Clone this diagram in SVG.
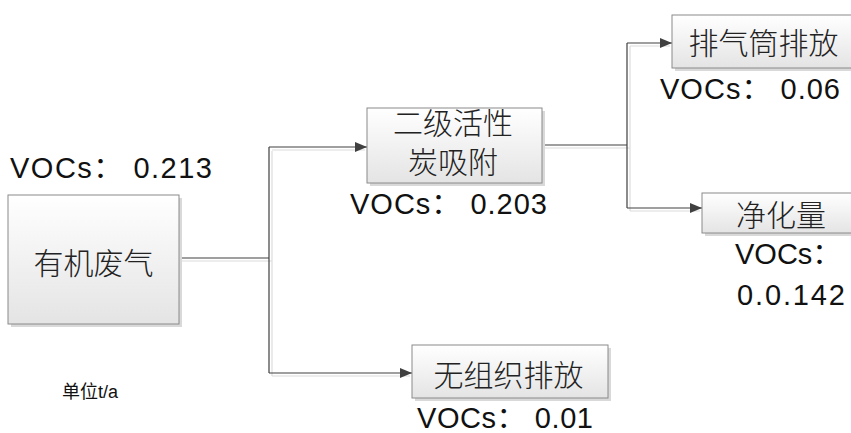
<svg xmlns="http://www.w3.org/2000/svg" width="851" height="433" viewBox="0 0 851 433">
<defs>
<linearGradient id="g" x1="0" y1="0" x2="0" y2="1">
<stop offset="0" stop-color="#ffffff"/>
<stop offset="1" stop-color="#e4e4e4"/>
</linearGradient>
<marker id="arr" viewBox="0 0 12 10" refX="12" refY="5" markerWidth="12" markerHeight="10" markerUnits="userSpaceOnUse" orient="auto">
<path d="M0,0 L12,5 L0,10 Z" fill="#404040"/>
</marker>
</defs>
<style>
.box{fill:url(#g);stroke:#8a8a8a;stroke-width:1}
.sh{fill:#d9d9d9}
.cn{fill:none;stroke:#404040;stroke-width:1.2}
.cs{fill:none;stroke:#dcdcdc;stroke-width:1.2}
.cjk{font-family:"Noto Sans CJK SC",sans-serif;font-weight:300;font-size:30px;fill:#222;text-anchor:middle}
.v{font-family:"Liberation Sans","Noto Sans CJK SC",sans-serif;font-size:29px;fill:#111}
.u{font-family:"Liberation Sans","Noto Sans CJK SC",sans-serif;font-size:18px;fill:#111}
</style>
<g id="connectors">
<path class="cs" d="M181,261 H272 M272,151 V376 M272,150 H365 M272,376 H410 M544,148 H630 M630,46 V211 M630,46 H670 M630,211 H700"/>
<path class="cn" d="M179,258 H269 M269,147 V373"/>
<path class="cn" d="M269,147 H367" marker-end="url(#arr)"/>
<path class="cn" d="M269,373 H412" marker-end="url(#arr)"/>
<path class="cn" d="M542,145 H627 M627,43 V208"/>
<path class="cn" d="M627,43 H672" marker-end="url(#arr)"/>
<path class="cn" d="M627,208 H702" marker-end="url(#arr)"/>
</g>
<g id="n1">
<rect class="sh" x="11" y="198" width="171" height="129"/>
<rect class="box" x="8" y="195" width="171" height="129"/>
<text class="cjk" x="93.5" y="274">有机废气</text>
<text class="v" x="10" y="178" textLength="202">VOCs： 0.213</text>
</g>
<g id="n2">
<rect class="sh" x="370" y="111" width="175" height="75"/>
<rect class="box" x="367" y="108" width="175" height="75"/>
<text class="cjk" x="453" y="134">二级活性</text>
<text class="cjk" x="453" y="173">炭吸附</text>
<text class="v" x="350" y="214" textLength="197">VOCs： 0.203</text>
</g>
<g id="n3">
<rect class="sh" x="675" y="18" width="190" height="53"/>
<rect class="box" x="672" y="15" width="190" height="53"/>
<text class="cjk" x="763.5" y="54">排气筒排放</text>
<text class="v" x="660" y="99" textLength="180">VOCs： 0.06</text>
</g>
<g id="n4">
<rect class="sh" x="705" y="196" width="160" height="40"/>
<rect class="box" x="702" y="193" width="160" height="40"/>
<text class="cjk" x="781" y="226">净化量</text>
<text class="v" x="735" y="264">VOCs：</text>
<text class="v" x="737" y="305" textLength="108">0.0.142</text>
</g>
<g id="n5">
<rect class="sh" x="415" y="348" width="196" height="53"/>
<rect class="box" x="412" y="345" width="196" height="53"/>
<text class="cjk" x="508.5" y="386">无组织排放</text>
<text class="v" x="417" y="428" textLength="176">VOCs： 0.01</text>
</g>
<text class="u" x="62" y="398">单位t/a</text>
</svg>
